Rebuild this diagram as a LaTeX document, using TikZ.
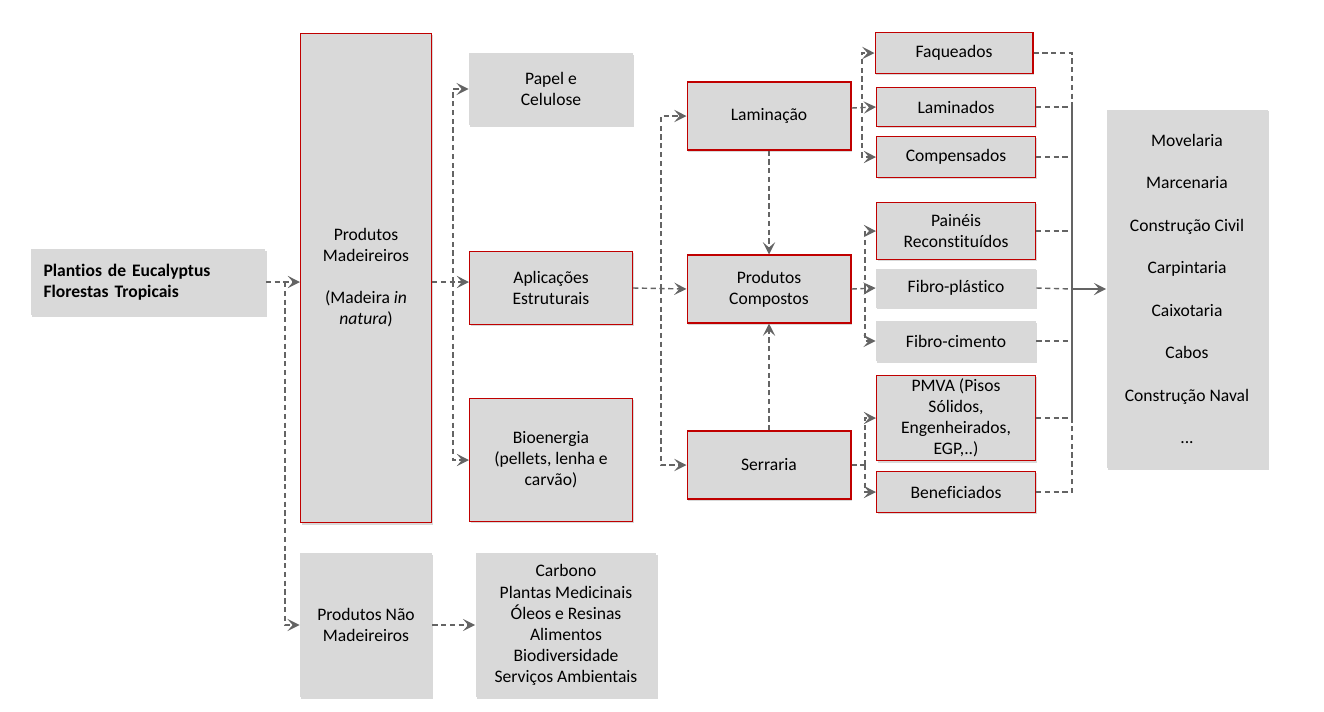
\documentclass[tikz,border=0pt]{standalone}
\usepackage{fontspec}
\setmainfont{Carlito}[Ligatures=NoCommon]
\usepackage{tikz}
\usetikzlibrary{arrows.meta}
\usetikzlibrary{shadows}
\definecolor{boxgray}{RGB}{217,217,217}
\definecolor{boxred}{RGB}{192,0,0}
\definecolor{linegray}{RGB}{100,100,100}
\tikzset{
  box/.style = {rectangle, fill=boxgray, draw=none, align=center, inner sep=2pt,
    font=\fontsize{10}{12}\selectfont,
    drop shadow={shadow xshift=0.7pt, shadow yshift=-1pt, opacity=0.3}},
  redbox/.style = {box, draw=boxred, line width=0.6pt},
  line/.style = {draw=linegray, line width=0.8pt, dash pattern=on 3pt off 2pt},
  conn/.style = {line, ->},
}

\begin{document}
\begin{tikzpicture}[>={Stealth[length=7pt,width=7pt,inset=3pt]}, x=0.02cm, y=-0.02cm]
            \useasboundingbox (0,0) rectangle (1324,711);
            \node[box, minimum width=4.7cm, minimum height=1.32cm, text width=4.18cm,
              inner xsep=0.26cm, align=left, font=\fontsize{10}{12}\selectfont\bfseries]
              (plant) at (148,282) {Plantios de Eucalyptus\\Florestas Tropicais};
            \node[redbox, minimum width=2.62cm, minimum height=9.8cm] (pmad) at (366,278)
              {Produtos\\Madeireiros\\[11.8pt](Madeira \textit{in}\\\textit{natura})};
            \node[box, minimum width=2.64cm, minimum height=2.88cm] (pnm) at (366,625)
              {Produtos Não\\Madeireiros};
            \node[box, minimum width=3.62cm, minimum height=2.88cm] (nmlist) at (566,625)
              {Carbono\\Plantas Medicinais\\Óleos e Resinas\\Alimentos\\Biodiversidade\\Serviços Ambientais};
            \node[box, minimum width=3.28cm, minimum height=1.44cm] (papel) at (551,89)
              {Papel e\\Celulose};
            \node[redbox, minimum width=3.26cm, minimum height=1.46cm] (apl) at (551,288)
              {Aplicações\\Estruturais};
            \node[redbox, minimum width=3.26cm, minimum height=2.46cm] (bio) at (551,460)
              {Bioenergia\\(pellets, lenha e\\carvão)};
            \node[redbox, minimum width=3.28cm, minimum height=1.36cm] (lam) at (769,116)
              {Laminação};
            \node[redbox, minimum width=3.28cm, minimum height=1.36cm] (pc) at (769,289)
              {Produtos\\Compostos};
            \node[redbox, minimum width=3.28cm, minimum height=1.36cm] (serr) at (769,465)
              {Serraria};
            \node[redbox, minimum width=3.16cm, minimum height=0.82cm] (faq) at (954,53)
              {Faqueados};
            \node[redbox, minimum width=3.18cm, minimum height=0.78cm] (lamd) at (956,107)
              {Laminados};
            \node[redbox, minimum width=3.18cm, minimum height=0.82cm] (comp) at (956,157)
              {Compensados};
            \node[redbox, minimum width=3.18cm, minimum height=1.14cm] (painel) at (956,231)
              {Painéis\\Reconstituídos};
            \node[box, minimum width=3.2cm, minimum height=0.78cm] (fplas) at (956,288)
              {Fibro-plástico};
            \node[box, minimum width=3.2cm, minimum height=0.8cm] (fcim) at (956,341)
              {Fibro-cimento};
            \node[redbox, minimum width=3.18cm, minimum height=1.68cm] (pmva) at (956,418)
              {PMVA (Pisos\\Sólidos,\\Engenheirados,\\EGP,..)};
            \node[redbox, minimum width=3.18cm, minimum height=0.82cm] (benef) at (956,492)
              {Beneficiados};
            \node[box, minimum width=3.22cm, minimum height=7.18cm] (uses) at (1187,289)
              {Movelaria\\[12.2pt]Marcenaria\\[12.2pt]Construção Civil\\[12.2pt]Carpintaria\\[12.2pt]Caixotaria\\[12.2pt]Cabos\\[12.2pt]Construção Naval\\[12.2pt]...};
            \coordinate (t1) at (285,282);
            \coordinate (t2) at (453,282);
            \coordinate (t3) at (661,289);
            \coordinate (t4) at (862,108);
            \coordinate (t5) at (865,289);
            \coordinate (t6) at (865,465);
            \coordinate (t7) at (1072,289);
            \draw[conn] (plant.east) -- (plant.east -| pmad.west);
            \draw[conn] (t1) |- (pnm.west);
            \draw[conn] (pnm.east) -- (nmlist.west);
            \draw[conn] (pmad.east |- t2) -- (t2 -| apl.west);
            \draw[conn] (t2) |- (papel.west);
            \draw[conn] (t2) |- (bio.west);
            \draw[conn] (apl.east) -- (pc.west);
            \draw[conn] (t3) |- (lam.west);
            \draw[conn] (t3) |- (serr.west);
            \draw[conn] (lam.south) -- (pc.north);
            \draw[conn] (serr.north) -- (pc.south);
            \draw[conn] (t4 -| lam.east) -- (lamd.west);
            \draw[conn] (t4) |- (faq.west);
            \draw[conn] (t4) |- (comp.west);
            \draw[conn] (pc.east) -- (fplas.west);
            \draw[conn] (t5) |- (painel.west);
            \draw[conn] (t5) |- (fcim.west);
            \draw[line] (serr.east) -- (t6);
            \draw[conn] (t6) |- (pmva.west);
            \draw[conn] (t6) |- (benef.west);
            \draw[line] (faq.east) -| (t7);
            \draw[line] (lamd.east) -| (t7);
            \draw[line] (comp.east) -| (t7);
            \draw[line] (painel.east) -| (t7);
            \draw[line] (fplas.east) -- (t7);
            \draw[line] (fcim.east) -| (t7);
            \draw[line] (pmva.east) -- (pmva.east -| t7);
            \draw[draw=linegray, line width=0.8pt] (pmva.east -| t7) -- (t7);
            \draw[line] (benef.east) -| (t7);
            \draw[->, draw=linegray, line width=1.2pt] (t7) -- (uses.west);
        \end{tikzpicture}
\end{document}
